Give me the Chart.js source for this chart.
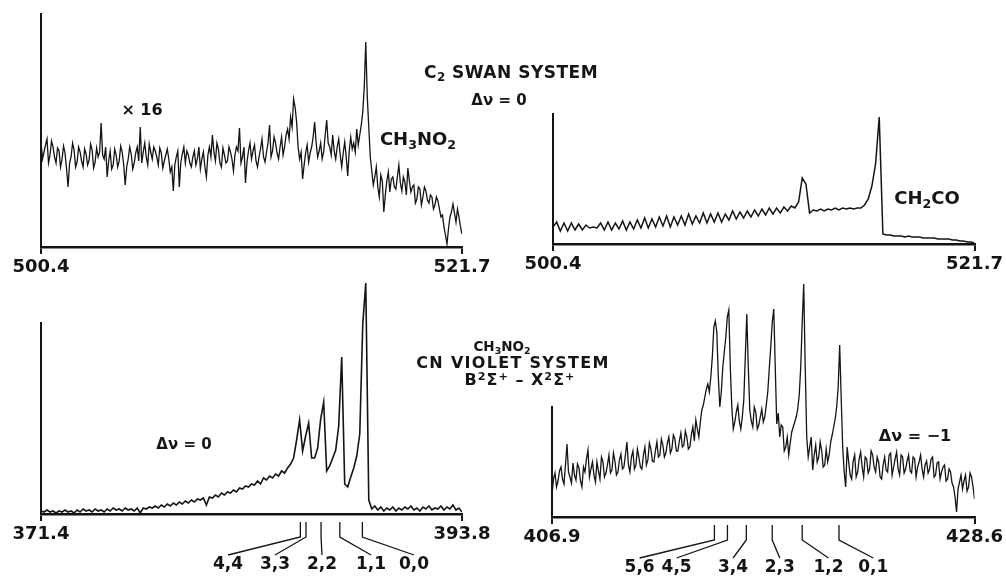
<!DOCTYPE html>
<html>
<head>
<meta charset="utf-8">
<script src="https://cdn.jsdelivr.net/npm/chart.js@4.4.1/dist/chart.umd.min.js"></script>
<style>
html,body{margin:0;padding:0;background:#fff;width:1006px;height:578px;overflow:hidden;}
#wrap{position:relative;width:1006px;height:578px;background:#fff;}
canvas{position:absolute;}
.t{position:absolute;transform:translate(-50%,-50%);font-family:"DejaVu Sans",sans-serif;font-weight:bold;font-size:16px;color:#151515;white-space:nowrap;line-height:1;}
.t sub{font-size:0.7em;vertical-align:-0.3em;line-height:0;}
.t sup{font-size:0.7em;vertical-align:0.45em;line-height:0;}
</style>
</head>
<body>
<div id="wrap">
  <canvas id="c1" width="503" height="290" style="left:0;top:0;width:503px;height:290px"></canvas>
  <canvas id="c2" width="503" height="290" style="left:503px;top:0;width:503px;height:290px"></canvas>
  <canvas id="c3" width="503" height="308" style="left:0;top:270px;width:503px;height:308px"></canvas>
  <canvas id="c4" width="503" height="308" style="left:503px;top:270px;width:503px;height:308px"></canvas>

  <div class="t" style="left:142px;top:110px;font-size:16px">× 16</div>
  <div class="t" style="left:418px;top:139px;font-size:18px">CH<sub>3</sub>NO<sub>2</sub></div>
  <div class="t" style="left:511px;top:72px;font-size:17px;letter-spacing:0.5px">C<sub>2</sub> SWAN SYSTEM</div>
  <div class="t" style="left:499px;top:100px;font-size:15px">Δν = 0</div>
  <div class="t" style="left:927px;top:198px;font-size:18px">CH<sub>2</sub>CO</div>
  <div class="t" style="left:502px;top:347px;font-size:13.5px">CH<sub>3</sub>NO<sub>2</sub></div>
  <div class="t" style="left:513px;top:363px;font-size:16px;letter-spacing:1.3px">CN VIOLET SYSTEM</div>
  <div class="t" style="left:520px;top:380px;font-size:16px;letter-spacing:1px">B<sup>2</sup>Σ<sup>+</sup> – X<sup>2</sup>Σ<sup>+</sup></div>
  <div class="t" style="left:184px;top:444px;font-size:15px">Δν = 0</div>
  <div class="t" style="left:915px;top:436px;font-size:16px">Δν = −1</div>
</div>

<script>
// ---------------- DATA ----------------
// Top-left: C2 Swan system from CH3NO2 (x16), wavelength range (nm)
const P1_RANGE = [500.4, 521.7];
const P1_TICKS = ["500.4", "521.7"];
const P1_VALUES = [
 105,88,95,102,108,84,92,106,100,90,84,99,96,80,88,101,94,78,60,84,
 90,104,97,80,85,100,95,86,80,98,93,82,87,103,97,79,85,99,90,95,
 124,92,88,100,70,86,96,78,82,98,92,80,86,101,95,82,62,80,88,100,
 93,78,84,94,100,86,120,84,95,104,90,82,103,95,88,100,96,90,82,99,
 94,79,86,92,98,88,75,80,56,82,90,96,60,85,93,100,84,96,92,84,
 80,90,96,82,88,100,78,88,95,80,70,92,100,90,112,95,86,104,98,84,
 80,99,92,84,86,100,95,88,76,92,100,96,119,84,90,100,64,85,96,104,
 88,96,102,86,80,90,98,108,90,85,95,104,122,90,96,110,104,94,88,100,
 110,92,100,112,118,108,130,120,148,140,125,100,88,95,68,82,94,102,85,94,
 100,110,125,104,90,96,104,88,95,112,127,104,100,92,112,96,88,100,108,92,
 80,94,105,90,71,96,110,98,104,95,118,102,112,122,135,160,205,150,120,90,
 76,62,70,80,60,50,72,66,35,52,66,75,55,68,70,60,58,70,82,64,
 56,70,65,52,79,66,55,60,62,44,48,60,58,42,50,60,56,47,44,52,
 50,38,42,50,46,38,30,32,20,12,3,18,30,35,43,34,25,38,30,20,
 13
];

// Top-right: C2 Swan system from CH2CO
const P2_RANGE = [500.4, 521.7];
const P2_TICKS = ["500.4", "521.7"];
const P2_VALUES = [
 17,22,13,21,13,21,14,20,14,19,16,17,16,21,14,22,14,21,15,23,
 14,22,15,24,16,26,16,25,17,27,18,28,17,27,19,28,19,30,20,28,
 21,31,21,30,22,31,22,30,24,33,25,32,26,33,27,34,28,35,29,36,
 30,36,31,37,33,38,36,42,66,60,31,34,33,35,33,35,34,36,34,36,
 35,36,35,36,36,39,45,58,80,127,10,9,9,8,8,8,7,8,7,7,
 7,6,6,6,6,5,5,5,5,4,4,3,3,2,2,1
];

// Bottom-left: CN violet system, Δv = 0
const P3_RANGE = [371.4, 393.8];
const P3_TICKS = ["371.4", "393.8"];
const P3_VALUES = [
 3,2,4,2,3,1,3,2,4,2,3,1,4,2,5,3,4,2,5,3,
 4,2,5,3,6,4,5,3,6,4,5,3,6,1,6,5,7,6,8,6,
 9,7,10,8,11,9,12,10,13,11,14,12,15,14,16,9,17,16,19,17,
 21,19,22,21,24,22,26,25,28,27,30,29,33,30,36,34,38,36,40,38,
 43,41,46,50,56,74,94,63,78,91,56,56,66,95,112,43,48,56,64,88,
 157,30,27,37,46,58,80,190,231,14,5,8,4,7,3,6,4,7,3,6,
 4,7,5,8,4,6,3,7,5,8,4,6,5,8,4,7,5,9,4,6,2
];
const P3_BANDS = [385.2, 385.5, 386.3, 387.3, 388.5];
const P3_BAND_LABELS = ["4,4", "3,3", "2,2", "1,1", "0,0"];

// Bottom-right: CN violet system, Δv = -1
const P4_RANGE = [406.9, 428.6];
const P4_TICKS = ["406.9", "428.6"];
const P4_VALUES = [
 22,38,44,30,36,46,50,38,33,52,73,45,40,34,54,42,37,53,49,36,
 30,50,45,58,67,40,48,55,42,35,55,46,38,60,55,40,44,52,62,44,
 47,64,56,42,45,57,63,48,50,62,75,52,45,60,66,48,52,68,60,50,
 48,62,70,52,57,74,68,56,55,66,75,60,62,78,72,60,64,74,80,64,
 68,82,78,66,66,76,84,70,72,86,80,68,70,82,90,76,97,88,80,95,
 107,112,120,128,133,125,140,160,190,196,185,140,110,125,150,165,180,200,207,150,
 110,88,95,105,112,96,88,100,117,160,203,150,107,96,90,110,105,88,92,100,
 108,95,100,112,125,148,170,195,208,150,93,104,80,92,90,66,70,80,62,74,
 85,90,95,100,108,122,150,195,233,150,80,60,70,80,47,62,72,55,60,75,
 66,50,52,68,55,62,75,82,90,98,110,130,172,120,70,45,30,70,55,42,
 38,56,62,40,45,58,65,50,40,60,58,44,48,66,62,50,45,60,55,40,
 38,52,60,47,45,62,64,42,50,58,65,48,42,62,60,44,48,56,62,46,
 44,60,58,40,50,55,62,48,40,52,56,44,48,58,60,40,42,54,55,38,
 45,50,52,36,38,48,45,34,30,20,5,28,35,42,28,36,42,26,30,44,
 40,30,18
];
const P4_BANDS = [415.24, 415.91, 416.88, 418.21, 419.75, 421.64];
const P4_BAND_LABELS = ["5,6", "4,5", "3,4", "2,3", "1,2", "0,1"];

// ---------------- LAYOUT / STYLE ----------------
const INK = '#141414';
const AXIS_H = 30;
const PANELS = [
  { id:'c1', range:P1_RANGE, ticks:P1_TICKS, values:P1_VALUES, yMax:234, yTop:234, lw:1.3,
    pad:{left:41, right:41, top:13, bottom:13} },
  { id:'c2', range:P2_RANGE, ticks:P2_TICKS, values:P2_VALUES, yMax:131, yTop:131, lw:1.5,
    pad:{left:50, right:31, top:113, bottom:16} },
  { id:'c3', range:P3_RANGE, ticks:P3_TICKS, values:P3_VALUES, yMax:236, yTop:192, lw:1.6,
    pad:{left:41, right:41, top:8, bottom:34},
    bands:P3_BANDS, bandLabels:P3_BAND_LABELS, labelAt:[381.35, 383.85, 386.35, 388.96, 391.25] },
  { id:'c4', range:P4_RANGE, ticks:P4_TICKS, values:P4_VALUES, yMax:236, yTop:111, lw:1.3,
    pad:{left:49, right:30, top:11, bottom:31},
    bands:P4_BANDS, bandLabels:P4_BAND_LABELS, labelAt:[411.4, 413.3, 416.2, 418.6, 421.1, 423.4] }
];

function toPoints(range, values) {
  const step = (range[1] - range[0]) / (values.length - 1);
  return values.map((v, i) => ({ x: range[0] + i * step, y: v }));
}

function makeDecor(p) {
  return {
    id: 'decor_' + p.id,
    afterDraw(chart) {
      const ctx = chart.ctx, xs = chart.scales.x, ys = chart.scales.y;
      const base = ys.getPixelForValue(0);
      const x0 = xs.getPixelForValue(p.range[0]);
      ctx.save();
      ctx.strokeStyle = INK;
      ctx.lineWidth = 2;
      ctx.beginPath();
      ctx.moveTo(x0, base);
      ctx.lineTo(x0, ys.getPixelForValue(p.yTop));
      ctx.stroke();
      if (p.bands) {
        ctx.lineWidth = 1.3;
        ctx.font = 'bold 17px "DejaVu Sans"';
        ctx.textAlign = 'center';
        ctx.textBaseline = 'middle';
        ctx.fillStyle = INK;
        p.bands.forEach((b, i) => {
          const bx = xs.getPixelForValue(b);
          const lx = xs.getPixelForValue(p.labelAt[i]);
          ctx.beginPath();
          ctx.moveTo(bx, base + 8);
          ctx.lineTo(bx, base + 23);
          ctx.lineTo(lx, base + 41);
          ctx.stroke();
          ctx.fillText(p.bandLabels[i], lx, base + 51);
        });
      }
      ctx.restore();
    }
  };
}

PANELS.forEach(p => {
  new Chart(document.getElementById(p.id), {
    type: 'line',
    data: {
      datasets: [{
        data: toPoints(p.range, p.values),
        borderColor: INK,
        borderWidth: p.lw,
        pointRadius: 0,
        tension: 0,
        fill: false
      }]
    },
    options: {
      responsive: false,
      animation: false,
      layout: { padding: p.pad },
      plugins: { legend: { display: false }, tooltip: { enabled: false } },
      scales: {
        x: {
          type: 'linear',
          min: p.range[0],
          max: p.range[1],
          afterBuildTicks: s => { s.ticks = [{ value: p.range[0] }, { value: p.range[1] }]; },
          afterFit: s => { s.height = AXIS_H; },
          ticks: {
            autoSkip: false, maxRotation: 0, minRotation: 0, padding: 3, color: INK,
            font: { family: '"DejaVu Sans", sans-serif', weight: 'bold', size: 18 },
            callback: (v, i) => p.ticks[i]
          },
          grid: { drawOnChartArea: false, drawTicks: true, tickLength: 7, color: INK, lineWidth: 2 },
          border: { display: true, color: INK, width: 2.5 }
        },
        y: { display: false, min: 0, max: p.yMax }
      }
    },
    plugins: [makeDecor(p)]
  });
});
</script>
</body>
</html>
